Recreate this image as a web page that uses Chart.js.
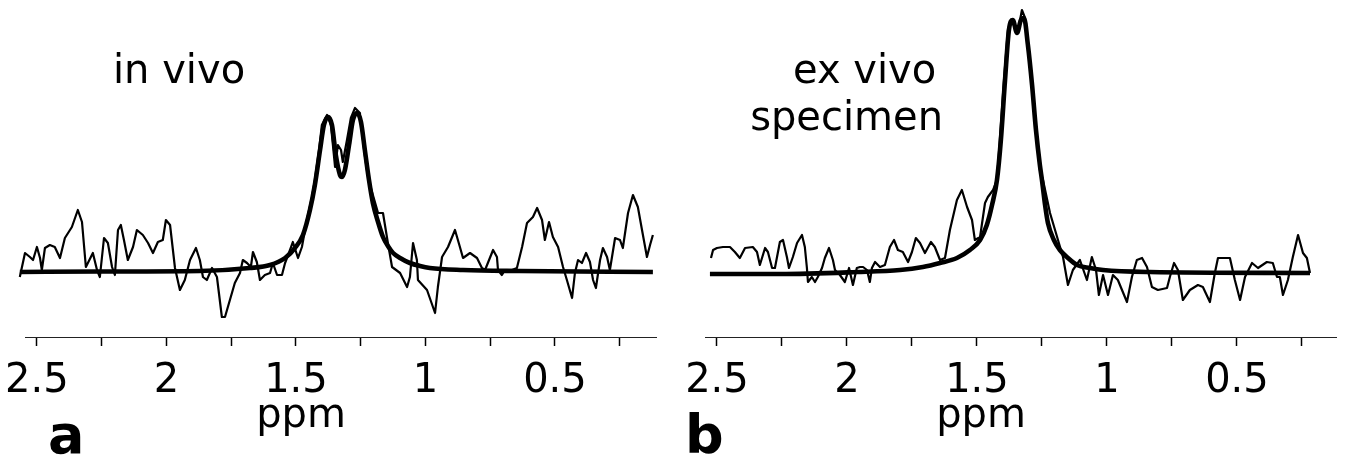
<!DOCTYPE html>
<html>
<head>
<meta charset="utf-8">
<script src="https://cdn.jsdelivr.net/npm/chart.js@4.4.1/dist/chart.umd.min.js"></script>
<style>
  html, body { margin: 0; padding: 0; background: #ffffff; }
  #wrap { position: relative; width: 1346px; height: 462px; overflow: hidden; }
  canvas { position: absolute; top: 0; }
  #cA { left: 0; }
  #cB { left: 673px; }
</style>
</head>
<body>
<div id="wrap">
  <canvas id="cA" width="673" height="462"></canvas>
  <canvas id="cB" width="673" height="462"></canvas>
</div>
<script>
// Chemical shift axis labels (ppm)
const tickLabels = ['2.5', '2', '1.5', '1', '0.5'];

// (a) in vivo: measured spectrum (ppm, signal in a.u.)
const ppmInVivo = [2.566, 2.546, 2.527, 2.515, 2.500, 2.488, 2.481, 2.469, 2.450, 2.431, 2.411, 2.392, 2.365, 2.342, 2.326, 2.311, 2.284, 2.268, 2.257, 2.241, 2.226, 2.210, 2.199, 2.187, 2.176, 2.164, 2.149, 2.129, 2.114, 2.091, 2.071, 2.052, 2.033, 2.014, 2.002, 1.986, 1.967, 1.948, 1.929, 1.909, 1.886, 1.871, 1.859, 1.844, 1.824, 1.805, 1.786, 1.774, 1.755, 1.736, 1.716, 1.705, 1.689, 1.674, 1.666, 1.651, 1.639, 1.620, 1.600, 1.589, 1.573, 1.554, 1.542, 1.523, 1.512, 1.492, 1.477, 1.458, 1.438, 1.427, 1.411, 1.400, 1.380, 1.365, 1.349, 1.338, 1.326, 1.319, 1.303, 1.288, 1.272, 1.253, 1.237, 1.226, 1.214, 1.183, 1.164, 1.145, 1.129, 1.098, 1.071, 1.060, 1.048, 1.033, 1.029, 0.994, 0.963, 0.952, 0.936, 0.913, 0.886, 0.867, 0.855, 0.828, 0.801, 0.782, 0.770, 0.739, 0.724, 0.720, 0.705, 0.693, 0.666, 0.647, 0.627, 0.608, 0.585, 0.569, 0.550, 0.539, 0.523, 0.508, 0.488, 0.469, 0.454, 0.434, 0.423, 0.411, 0.396, 0.380, 0.365, 0.353, 0.342, 0.326, 0.315, 0.299, 0.288, 0.268, 0.249, 0.238, 0.218, 0.199, 0.180, 0.164, 0.145, 0.133, 0.122];
const inVivo = [-5, 19, 15, 12, 25, 14, 2, 24, 27, 25, 14, 34, 45, 62, 50, 5, 19, 2, -5, 34, 29, 5, -3, 42, 47, 32, 12, 25, 42, 37, 29, 19, 30, 32, 52, 47, 4, -18, -8, 12, 24, 12, -5, -8, 4, -5, -45, -45, -28, -11, -1, 12, 9, 5, 20, 10, -8, -3, -1, 9, -3, -3, 9, 22, 30, 14, 25, 52, 75, 92, 122, 147, 157, 147, 105, 127, 122, 110, 132, 154, 164, 159, 122, 102, 87, 59, 59, 29, 5, -1, -15, -5, 29, 12, -8, -18, -41, -15, 15, 25, 42, 25, 14, 19, 14, 4, 2, 22, 15, 2, -3, 2, 2, 4, 25, 49, 55, 64, 52, 32, 50, 35, 25, 5, -8, -26, -1, 12, 9, 19, 10, -8, -16, 12, 24, 15, 2, 34, 32, 24, 59, 77, 65, 42, 15, 27, 37];

// (a) in vivo: fitted doublet
const fitPpmInVivo = [2.566, 2.257, 1.871, 1.678, 1.600, 1.542, 1.504, 1.473, 1.446, 1.427, 1.407, 1.392, 1.376, 1.361, 1.346, 1.330, 1.322, 1.311, 1.295, 1.280, 1.264, 1.249, 1.234, 1.218, 1.203, 1.183, 1.164, 1.145, 1.125, 1.098, 1.060, 1.021, 0.983, 0.855, 0.635, 0.122];
const fitInVivo = [0, 0.5, 1, 4, 7, 14, 24, 37, 62, 87, 122, 147, 155, 147, 117, 97, 95, 102, 127, 152, 159, 150, 122, 92, 69, 50, 35, 26, 19, 14, 9, 6, 4, 2, 1, 0];

// (b) ex vivo specimen: measured spectrum
const ppmExVivo = [2.523, 2.515, 2.500, 2.477, 2.450, 2.431, 2.412, 2.392, 2.362, 2.346, 2.335, 2.315, 2.304, 2.288, 2.277, 2.258, 2.246, 2.231, 2.223, 2.208, 2.192, 2.173, 2.162, 2.154, 2.150, 2.135, 2.123, 2.112, 2.096, 2.085, 2.069, 2.054, 2.046, 2.027, 2.008, 1.992, 1.977, 1.962, 1.950, 1.938, 1.923, 1.912, 1.904, 1.892, 1.873, 1.854, 1.835, 1.819, 1.804, 1.785, 1.765, 1.750, 1.735, 1.719, 1.700, 1.677, 1.662, 1.642, 1.623, 1.604, 1.577, 1.558, 1.538, 1.519, 1.508, 1.488, 1.469, 1.458, 1.438, 1.423, 1.412, 1.396, 1.381, 1.365, 1.350, 1.338, 1.327, 1.315, 1.304, 1.288, 1.273, 1.258, 1.246, 1.219, 1.169, 1.150, 1.131, 1.104, 1.077, 1.058, 1.042, 1.031, 1.015, 0.996, 0.977, 0.958, 0.923, 0.904, 0.885, 0.865, 0.846, 0.827, 0.804, 0.769, 0.758, 0.742, 0.727, 0.708, 0.681, 0.650, 0.631, 0.604, 0.585, 0.573, 0.527, 0.508, 0.488, 0.469, 0.442, 0.419, 0.385, 0.362, 0.346, 0.335, 0.323, 0.304, 0.285, 0.265, 0.246, 0.231, 0.219];
const exVivo = [15, 23, 25, 26, 26, 21, 15, 25, 26, 21, 8, 25, 21, 5, 5, 31, 33, 16, 5, 16, 30, 38, 26, 5, -9, -4, -9, -4, 5, 15, 25, 13, 3, -2, -9, 5, -12, 5, 6, 6, 3, -9, 5, 11, 6, 8, 26, 33, 23, 21, 11, 21, 35, 30, 20, 31, 26, 13, 15, 43, 73, 83, 66, 53, 33, 36, 70, 76, 83, 93, 133, 193, 243, 253, 241, 248, 263, 255, 228, 188, 143, 103, 93, 60, 16, -12, 3, 13, -7, 16, 3, -22, -2, -22, -2, -7, -29, -4, 13, 15, 6, -14, -17, -15, -4, 10, 3, -27, -17, -12, -14, -29, 0, 15, 15, -7, -27, -4, 10, 5, 11, 10, -4, -4, -22, -7, 16, 38, 20, 15, 0];

// (b) ex vivo specimen: fitted doublet
const fitPpmExVivo = [2.527, 2.258, 1.962, 1.796, 1.708, 1.642, 1.577, 1.527, 1.488, 1.462, 1.442, 1.423, 1.408, 1.392, 1.377, 1.362, 1.346, 1.331, 1.319, 1.304, 1.288, 1.273, 1.258, 1.250, 1.238, 1.227, 1.204, 1.181, 1.150, 1.115, 1.065, 1.015, 0.835, 0.219];
const fitExVivo = [-1, -1, 1, 3, 6, 10, 15, 23, 33, 48, 68, 93, 133, 193, 243, 253, 240, 253, 255, 228, 188, 143, 108, 93, 68, 50, 33, 23, 15, 8, 5, 3, 1, 0];

function points(xs, ys) {
  return xs.map((x, i) => ({ x: x, y: ys[i] }));
}

// Free text drawn on top of each panel (labels, panel letter)
const panelText = {
  id: 'panelText',
  afterDraw(chart, args, opts) {
    const ctx = chart.ctx;
    ctx.save();
    ctx.fillStyle = '#000';
    ctx.textBaseline = 'alphabetic';
    (opts.items || []).forEach(it => {
      ctx.font = it.font;
      ctx.textAlign = it.align || 'left';
      ctx.fillText(it.text, it.x, it.y);
    });
    ctx.restore();
  }
};

const labelFont = '40px "DejaVu Sans"';
const letterFont = 'bold 54px "DejaVu Sans"';

function makePanel(canvasId, measured, fitted, xRange, yRange, pad, items) {
  return new Chart(document.getElementById(canvasId), {
    type: 'line',
    data: {
      datasets: [
        {
          data: measured,
          borderColor: '#000',
          borderWidth: 2.2,
          pointRadius: 0,
          tension: 0,
          fill: false,
          clip: false,
          borderJoinStyle: 'round'
        },
        {
          data: fitted,
          borderColor: '#000',
          borderWidth: 4.6,
          pointRadius: 0,
          cubicInterpolationMode: 'monotone',
          fill: false,
          clip: false,
          borderJoinStyle: 'round'
        }
      ]
    },
    options: {
      responsive: false,
      animation: false,
      devicePixelRatio: 1,
      layout: { padding: pad },
      plugins: {
        legend: { display: false },
        tooltip: { enabled: false },
        panelText: { items: items }
      },
      scales: {
        x: {
          type: 'linear',
          reverse: true,
          min: xRange[0],
          max: xRange[1],
          // fixed axis band height; the plot area keeps the layout padding on the sides
          afterFit: (s) => { s.height = 125; s.paddingLeft = 0; s.paddingRight = 0; },
          border: { display: true, color: '#222', width: 1, dash: [2, 1] },
          grid: {
            drawOnChartArea: false,
            drawTicks: true,
            tickLength: 9,
            color: '#000',
            tickWidth: 1.5
          },
          ticks: {
            stepSize: 0.25,
            includeBounds: false,
            autoSkip: false,
            maxRotation: 0,
            minRotation: 0,
            color: '#000',
            padding: 12,
            font: { family: 'DejaVu Sans', size: 40 },
            callback: (v) => tickLabels.includes(String(v)) ? String(v) : ''
          }
        },
        y: {
          display: false,
          min: yRange[0],
          max: yRange[1]
        }
      }
    },
    plugins: [panelText]
  });
}

makePanel('cA',
  points(ppmInVivo, inVivo),
  points(fitPpmInVivo, fitInVivo),
  [0.110, 2.546], [-65, 272],
  { left: 25, right: 17, top: 0, bottom: 0 },
  [
    { text: 'in vivo', x: 113, y: 83, font: labelFont },
    { text: 'ppm', x: 301, y: 427, font: labelFont, align: 'center' },
    { text: 'a', x: 48, y: 453, font: letterFont }
  ]);

makePanel('cB',
  points(ppmExVivo, exVivo),
  points(fitPpmExVivo, fitExVivo),
  [0.119, 2.546], [-64, 273],
  { left: 32, right: 10, top: 0, bottom: 0 },
  [
    { text: 'ex vivo', x: 120, y: 83, font: labelFont },
    { text: 'specimen', x: 270, y: 130, font: labelFont, align: 'right' },
    { text: 'ppm', x: 308, y: 427, font: labelFont, align: 'center' },
    { text: 'b', x: 12, y: 453, font: letterFont }
  ]);
</script>
</body>
</html>
